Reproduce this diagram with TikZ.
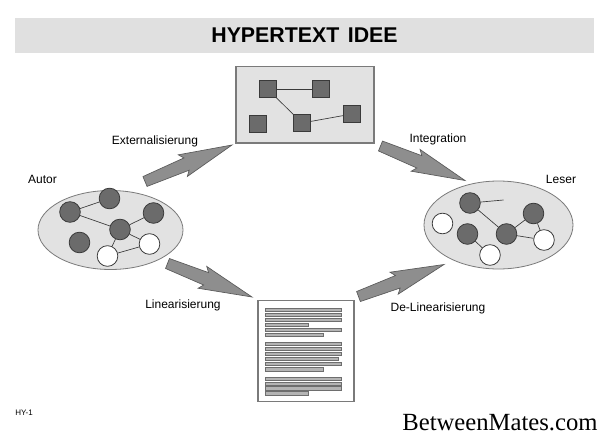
\documentclass[tikz,border=0pt]{standalone}
\usepackage{fontspec}
\setmainfont{Liberation Sans}
\newfontfamily\wmserif{Liberation Serif}
\usetikzlibrary{calc,shapes.geometric}
\definecolor{barfill}{HTML}{E0E0E0}
\definecolor{boxfill}{HTML}{E2E2E2}
\definecolor{boxline}{HTML}{7A7A7A}
\definecolor{darknode}{HTML}{6B6B6B}
\definecolor{edgecol}{HTML}{3A3A3A}
\definecolor{arrowfill}{HTML}{8E8E8E}
\definecolor{arrowline}{HTML}{5A5A5A}
\definecolor{linefill}{HTML}{B4B4B4}
\definecolor{lineedge}{HTML}{6E6E6E}
\tikzset{
  graybox/.style={draw=boxline, fill=boxfill, line width=0.8pt, inner sep=0pt},
  docbox/.style={draw=boxline, fill=white, line width=0.8pt, inner sep=0pt, minimum width=72pt, minimum height=75.75pt},
  ellbox/.style={ellipse, draw=boxline, fill=boxfill, line width=0.6pt, inner sep=0pt},
  sq/.style={draw=edgecol, fill=darknode, line width=0.5pt, minimum size=12.75pt, inner sep=0pt},
  dk/.style={circle, draw=edgecol, fill=darknode, line width=0.6pt, minimum size=15.5pt, inner sep=0pt},
  wt/.style={circle, draw=edgecol, fill=white, line width=0.6pt, minimum size=15.5pt, inner sep=0pt},
  lnk/.style={draw=edgecol, line width=0.5pt},
  lbl/.style={font=\fontsize{9}{10}\selectfont, inner sep=0pt},
  arrowshape/.style={fill=arrowfill, draw=arrowline, line width=0.5pt, line join=miter},
  textbar/.style={fill=linefill, draw=lineedge, line width=0.4pt}
}
\newcommand\blockarrow[2]{%
  \draw[arrowshape]
    ($(#1)!4pt!90:(#2)$) --
    ($(#2)!37pt!(#1)!5pt!-90:(#1)$) --
    ($(#2)!40pt!(#1)!8.8pt!-90:(#1)$) --
    (#2) --
    ($(#2)!40pt!(#1)!8.8pt!90:(#1)$) --
    ($(#2)!37pt!(#1)!5pt!90:(#1)$) --
    ($(#1)!4pt!-90:(#2)$) -- cycle;}
\begin{document}
\begin{tikzpicture}[x=0.75pt,y=-0.75pt]
\useasboundingbox (0,0) rectangle (607,439);
% title bar
\fill[barfill] (15,18) rectangle (594,53);
\node[font=\bfseries\fontsize{16}{18}\selectfont, inner sep=0pt] (title) at (304.5,35.5) {HYPERTEXT\hspace{0.12em} IDEE};

% hypertext box
\node[graybox, minimum width=103.5pt, minimum height=57.4pt] (hyper) at (305,104.75) {};
\node[sq] (s1) at (267.5,89) {};
\node[sq] (s2) at (321,89) {};
\node[sq] (s3) at (258,124) {};
\node[sq] (s4) at (302,123) {};
\node[sq] (s5) at (352,114) {};
\draw[lnk] (s1) -- (s2);
\draw[lnk] (s1) -- (s4);
\draw[lnk] (s4) -- (s5);

% Autor
\node[ellbox, minimum width=108.75pt, minimum height=59.25pt] (autor) at (110.5,230) {};
\node[dk] (a1) at (70,212) {};
\node[dk] (a2) at (109.5,198.5) {};
\node[dk] (a3) at (153.5,213) {};
\node[dk] (a4) at (120,229.5) {};
\node[dk] (a5) at (79.5,242.5) {};
\node[wt] (a6) at (149.5,244) {};
\node[wt] (a7) at (107.5,256) {};
\draw[lnk] (a1) -- (a2);
\draw[lnk] (a1) -- (a4);
\draw[lnk] (a4) -- (a3);
\draw[lnk] (a4) -- (a6);
\draw[lnk] (a4) -- (a7);
\draw[lnk] (a7) -- (a6);
\node[lbl] (autorlbl) at (42.5,179) {Autor};

% Leser
\node[ellbox, minimum width=111.75pt, minimum height=66pt] (leser) at (498.5,225) {};
\node[dk] (l1) at (470,203) {};
\node[dk] (l2) at (533.5,213.5) {};
\node[wt] (l3) at (442.5,223.5) {};
\node[dk] (l4) at (467.5,234) {};
\node[dk] (l5) at (506.5,234) {};
\node[wt] (l6) at (544,240) {};
\node[wt] (l7) at (490,255) {};
\coordinate (lend) at (503.5,200);
\draw[lnk] (l1) -- (lend);
\draw[lnk] (l1) -- (l5);
\draw[lnk] (l5) -- (l2);
\draw[lnk] (l5) -- (l6);
\draw[lnk] (l2) -- (l6);
\draw[lnk] (l4) -- (l7);
\node[lbl] (leserlbl) at (561,179) {Leser};

% linear document
\node[docbox] (doc) at (306,351) {};
\foreach \yy/\xe in {310/341,315/341,320/341,325/308,330/341,335/323,
                     343.5/341,348.5/341,353.5/341,358.5/338,364/341,369.3/323,
                     378.7/341,383.5/341,388.3/341,393.3/308}{
  \draw[textbar] (265,\yy-1.6) rectangle (\xe,\yy+1.6);
}

% arrows
\coordinate (extA) at (145,181.5);
\coordinate (extB) at (232,145);
\coordinate (intA) at (380.5,146);
\coordinate (intB) at (465,180.5);
\coordinate (linA) at (167.5,263.5);
\coordinate (linB) at (252,297);
\coordinate (delA) at (358.5,296.5);
\coordinate (delB) at (444,264.5);
\blockarrow{extA}{extB}
\blockarrow{intA}{intB}
\blockarrow{linA}{linB}
\blockarrow{delA}{delB}

\node[lbl] (extlbl) at (155,141) {Externalisierung};
\node[lbl] (intlbl) at (438,139) {Integration};
\node[lbl] (linlbl) at (183,305) {Linearisierung};
\node[lbl] (dellbl) at (438,308) {De-Linearisierung};

\node[font=\fontsize{6}{7}\selectfont, inner sep=0pt, anchor=west] (hy) at (15,413) {HY-1};
\node[font=\wmserif\fontsize{18.5}{20}\selectfont, inner sep=0pt] (wm) at (500,423) {BetweenMates.com};
\end{tikzpicture}
\end{document}
